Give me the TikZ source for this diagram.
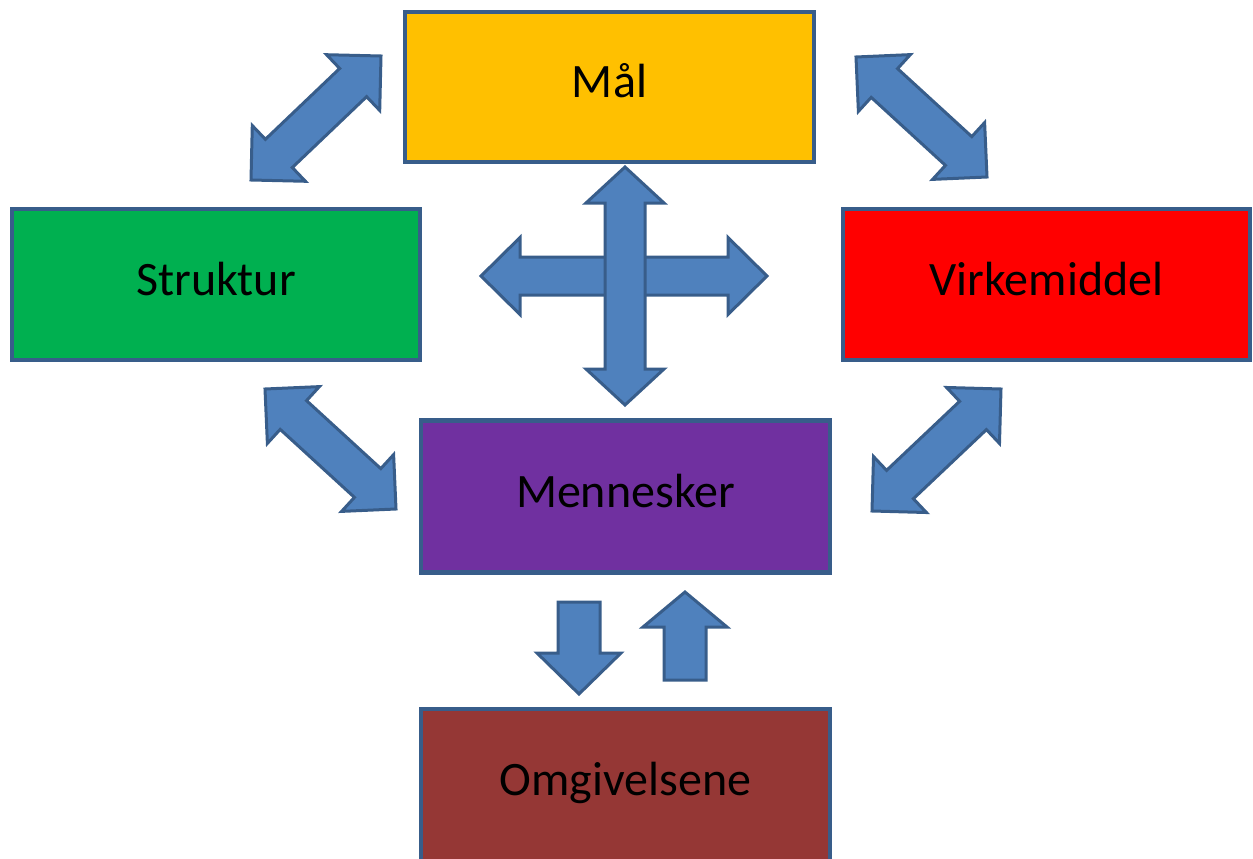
\documentclass[tikz,border=0pt]{standalone}
\usepackage{fontspec}
\setmainfont{Carlito}
\usetikzlibrary{calc}
\definecolor{arrfill}{HTML}{4F81BD}
\definecolor{arrline}{HTML}{385D8A}
\definecolor{cgold}{HTML}{FFC000}
\definecolor{cgreen}{HTML}{00B050}
\definecolor{cred}{HTML}{FF0000}
\definecolor{cpurple}{HTML}{7030A0}
\definecolor{cbrown}{HTML}{953735}
\tikzset{
  box/.style={draw=arrline, line width=4.5pt, inner sep=0pt, font=\fontsize{48}{56}\selectfont,
    text height=21pt, text depth=0pt, text=black},
  blockarrow/.style={fill=arrfill, draw=arrline, line width=3pt, line join=miter},
}
% double block arrow between coordinates #1 and #2; #3 shaft half width, #4 head half width, #5 head length
\newcommand\dblarr[5]{%
  \draw[blockarrow] (#1)
    -- ($(#1)!#5!(#2)!#4!90:(#2)$)
    -- ($(#1)!#5!(#2)!#3!90:(#2)$)
    -- ($(#2)!#5!(#1)!#3!-90:(#1)$)
    -- ($(#2)!#5!(#1)!#4!-90:(#1)$)
    -- (#2)
    -- ($(#2)!#5!(#1)!#4!90:(#1)$)
    -- ($(#2)!#5!(#1)!#3!90:(#1)$)
    -- ($(#1)!#5!(#2)!#3!-90:(#2)$)
    -- ($(#1)!#5!(#2)!#4!-90:(#2)$)
    -- cycle;}
% single block arrow from tail #1 to tip #2
\newcommand\sglarr[5]{%
  \draw[blockarrow] ($(#1)!#3!90:(#2)$)
    -- ($(#2)!#5!(#1)!#3!-90:(#1)$)
    -- ($(#2)!#5!(#1)!#4!-90:(#1)$)
    -- (#2)
    -- ($(#2)!#5!(#1)!#4!90:(#1)$)
    -- ($(#2)!#5!(#1)!#3!90:(#1)$)
    -- ($(#1)!#3!-90:(#2)$)
    -- cycle;}
\begin{document}
\begin{tikzpicture}[x=1pt,y=-1pt]
\useasboundingbox (0,0) rectangle (1253,859);
\begin{scope}
\clip (0,0) rectangle (1253,859);
% boxes
\node[box, fill=cgold, minimum width=409pt, minimum height=150pt] (mal) at (609.5,87) {Mål};
\node[box, fill=cgreen, minimum width=408pt, minimum height=151pt] (struktur) at (216,284.5) {Struktur};
\node[box, fill=cred, minimum width=407pt, minimum height=151pt] (virke) at (1046.5,284.5) {Virkemiddel};
\node[box, fill=cpurple, minimum width=409pt, minimum height=152pt] (menn) at (625.5,496.5) {Mennesker};
\node[box, fill=cbrown, minimum width=409pt, minimum height=152pt] (omg) at (625.5,785) {Omgivelsene};
\end{scope}
% arrow end points
\coordinate (tlA) at (251,180);
\coordinate (tlB) at (381,56);
\coordinate (trA) at (856,57);
\coordinate (trB) at (987,177);
\coordinate (blA) at (265,389);
\coordinate (blB) at (396,509);
\coordinate (brA) at (1001,389);
\coordinate (brB) at (872,511);
\coordinate (hA) at (481,276);
\coordinate (hB) at (767,276);
\coordinate (vA) at (625,167);
\coordinate (vB) at (625,405);
\coordinate (dA) at (579,602);
\coordinate (dB) at (579,694);
\coordinate (uA) at (685,680);
\coordinate (uB) at (685,592);
% diagonal double arrows
\dblarr{tlA}{tlB}{19.5pt}{38.5pt}{38.5pt}
\dblarr{trA}{trB}{19.5pt}{38.5pt}{38.5pt}
\dblarr{blA}{blB}{19.5pt}{38.5pt}{38.5pt}
\dblarr{brA}{brB}{19.5pt}{38.5pt}{38.5pt}
% four-way cross
\dblarr{hA}{hB}{19pt}{38.5pt}{39pt}
\dblarr{vA}{vB}{20pt}{39pt}{36pt}
% single arrows
\sglarr{dA}{dB}{21pt}{42pt}{41pt}
\sglarr{uA}{uB}{21pt}{42pt}{35pt}
\end{tikzpicture}
\end{document}
